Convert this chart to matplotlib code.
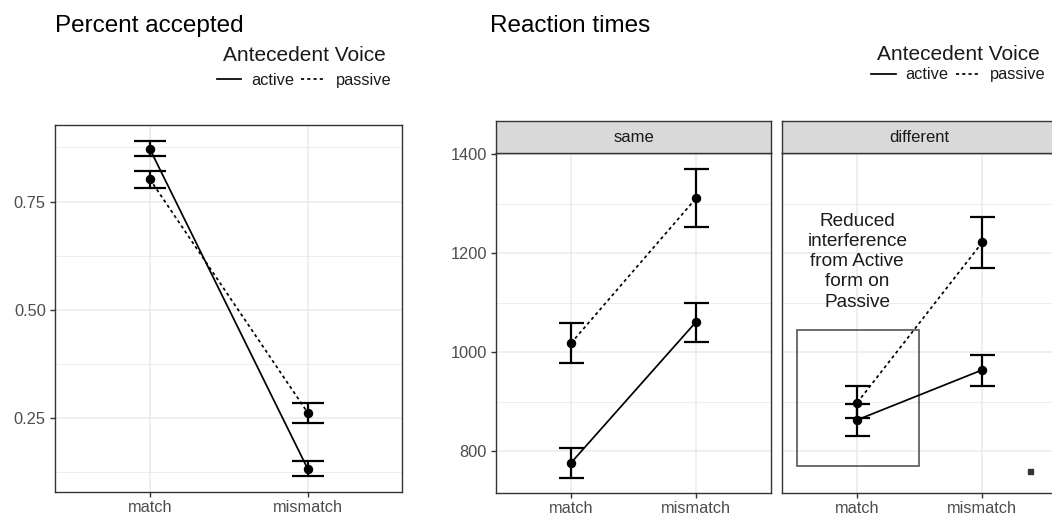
import matplotlib
matplotlib.use('Agg')
import matplotlib.pyplot as plt
from matplotlib.lines import Line2D
from matplotlib.patches import Rectangle

plt.rcParams['font.family'] = ['Liberation Sans', 'DejaVu Sans']

# ---------------- data ----------------
conditions = ['match', 'mismatch']
voices = ['active', 'passive']

acc_active = [0.872, 0.132]
acc_active_lo = [0.856, 0.115]
acc_active_hi = [0.889, 0.150]
acc_passive = [0.802, 0.262]
acc_passive_lo = [0.781, 0.239]
acc_passive_hi = [0.821, 0.284]

rt_same_active = [776, 1061]
rt_same_active_lo = [746, 1021]
rt_same_active_hi = [807, 1100]
rt_same_passive = [1018, 1311]
rt_same_passive_lo = [977, 1252]
rt_same_passive_hi = [1059, 1370]

rt_diff_active = [863, 964]
rt_diff_active_lo = [831, 932]
rt_diff_active_hi = [896, 995]
rt_diff_passive = [898, 1222]
rt_diff_passive_lo = [866, 1170]
rt_diff_passive_hi = [931, 1274]

facets = ['same', 'different']
annotation_text = "Reduced\ninterference\nfrom Active\nform on\nPassive"

# ---------------- figure ----------------
W, H = 1052, 518
fig = plt.figure(figsize=(W / 100, H / 100), dpi=100)


def add_axes_px(x0, y0, x1, y1):
    return fig.add_axes([x0 / W, 1 - y1 / H, (x1 - x0) / W, (y1 - y0) / H])


xpos = [1, 2]
DASH = (0, (1.8, 1.8))
BORDER = '#333333'
GRID = '#ebebeb'
LW = 1.25


def style(ax, ylim, major, minor, show_y=True):
    ax.set_xlim(0.4, 2.6)
    ax.set_ylim(*ylim)
    ax.set_xticks(xpos)
    ax.set_xticklabels(conditions)
    ax.set_yticks(major)
    ax.set_yticks(minor, minor=True)
    ax.grid(which='major', color=GRID, lw=1.1)
    ax.grid(which='minor', axis='y', color=GRID, lw=0.6)
    ax.set_axisbelow(True)
    for s in ax.spines.values():
        s.set_color(BORDER)
        s.set_linewidth(1.0)
    ax.tick_params(axis='both', which='major', length=3.6, width=1.0, color=BORDER,
                   labelsize=11.8, labelcolor='#4d4d4d')
    ax.tick_params(axis='x', pad=2.0)
    ax.tick_params(axis='y', pad=3.0)
    ax.tick_params(which='minor', length=0)
    if not show_y:
        ax.tick_params(axis='y', which='major', length=0, labelleft=False)


def draw_series(ax, vals, lo, hi, ls):
    ax.plot(xpos, vals, color='black', lw=LW, ls=ls, zorder=3)
    ax.vlines(xpos, lo, hi, color='black', lw=1.6, zorder=3)
    ax.hlines(lo, [x - 0.1 for x in xpos], [x + 0.1 for x in xpos], color='black', lw=1.6, zorder=3)
    ax.hlines(hi, [x - 0.1 for x in xpos], [x + 0.1 for x in xpos], color='black', lw=1.6, zorder=3)
    ax.plot(xpos, vals, 'o', color='black', ms=5.8, ls='none', zorder=4)


# ---- left panel: percent accepted ----
axL = add_axes_px(55, 125, 402.5, 492.3)
style(axL, (0.078, 0.927), [0.25, 0.50, 0.75], [0.125, 0.375, 0.625, 0.875])
axL.set_yticklabels(['0.25', '0.50', '0.75'])
draw_series(axL, acc_active, acc_active_lo, acc_active_hi, '-')
draw_series(axL, acc_passive, acc_passive_lo, acc_passive_hi, DASH)

# ---- right panels: reaction times ----
rt_ylim = (714.5, 1402)
rt_major = [800, 1000, 1200, 1400]
rt_minor = [900, 1100, 1300]

axS = add_axes_px(496, 153.3, 771, 493.3)
style(axS, rt_ylim, rt_major, rt_minor, show_y=True)
draw_series(axS, rt_same_active, rt_same_active_lo, rt_same_active_hi, '-')
draw_series(axS, rt_same_passive, rt_same_passive_lo, rt_same_passive_hi, DASH)

axD = add_axes_px(782.3, 153.3, 1057.3, 493.3)
style(axD, rt_ylim, rt_major, rt_minor, show_y=False)
draw_series(axD, rt_diff_active, rt_diff_active_lo, rt_diff_active_hi, '-')
draw_series(axD, rt_diff_passive, rt_diff_passive_lo, rt_diff_passive_hi, DASH)

# annotation in "different" panel
axD.add_patch(Rectangle((0.52, 770), 0.974, 275, fill=False, edgecolor='#555555', lw=1.2, zorder=2))
axD.text(1.0, 1183, annotation_text, ha='center', va='center', fontsize=13.7,
         linespacing=1.25, color='#1a1a1a', zorder=5)
axD.plot([2.379], [759], 's', color='#333333', ms=3.6, zorder=5)

# strips
for (x0, x1), label in zip([(496, 771), (782.3, 1057.3)], facets):
    st = add_axes_px(x0, 121, x1, 153.3)
    st.set_facecolor('#d9d9d9')
    st.set_xticks([])
    st.set_yticks([])
    for s in st.spines.values():
        s.set_color(BORDER)
        s.set_linewidth(1.0)
    st.text(0.5, 0.5, label, ha='center', va='center', fontsize=12, color='#1a1a1a',
            transform=st.transAxes)

# titles
fig.text(55 / W, 1 - 32 / H, 'Percent accepted', fontsize=17.5, ha='left', va='baseline')
fig.text(490 / W, 1 - 32 / H, 'Reaction times', fontsize=17.5, ha='left', va='baseline')

# legends
def make_handles():
    return [Line2D([], [], color='black', lw=LW, ls='-'),
            Line2D([], [], color='black', lw=LW, ls=DASH)]


for xr, ytop, lsp in [(391.5, 46, 0.5), (1046, 45, 0.2)]:
    leg = fig.legend(handles=make_handles(), labels=voices, title='Antecedent Voice',
                     ncol=2, frameon=False, fontsize=11.8, title_fontsize=15,
                     handlelength=1.5, handletextpad=0.6, columnspacing=0.45,
                     borderpad=0, borderaxespad=0, labelspacing=lsp,
                     loc='upper right', bbox_to_anchor=(xr / W, 1 - ytop / H))
    leg.get_title().set_color('#1a1a1a')
    for t in leg.get_texts():
        t.set_color('#1a1a1a')

fig.savefig('out.png', dpi=100)
